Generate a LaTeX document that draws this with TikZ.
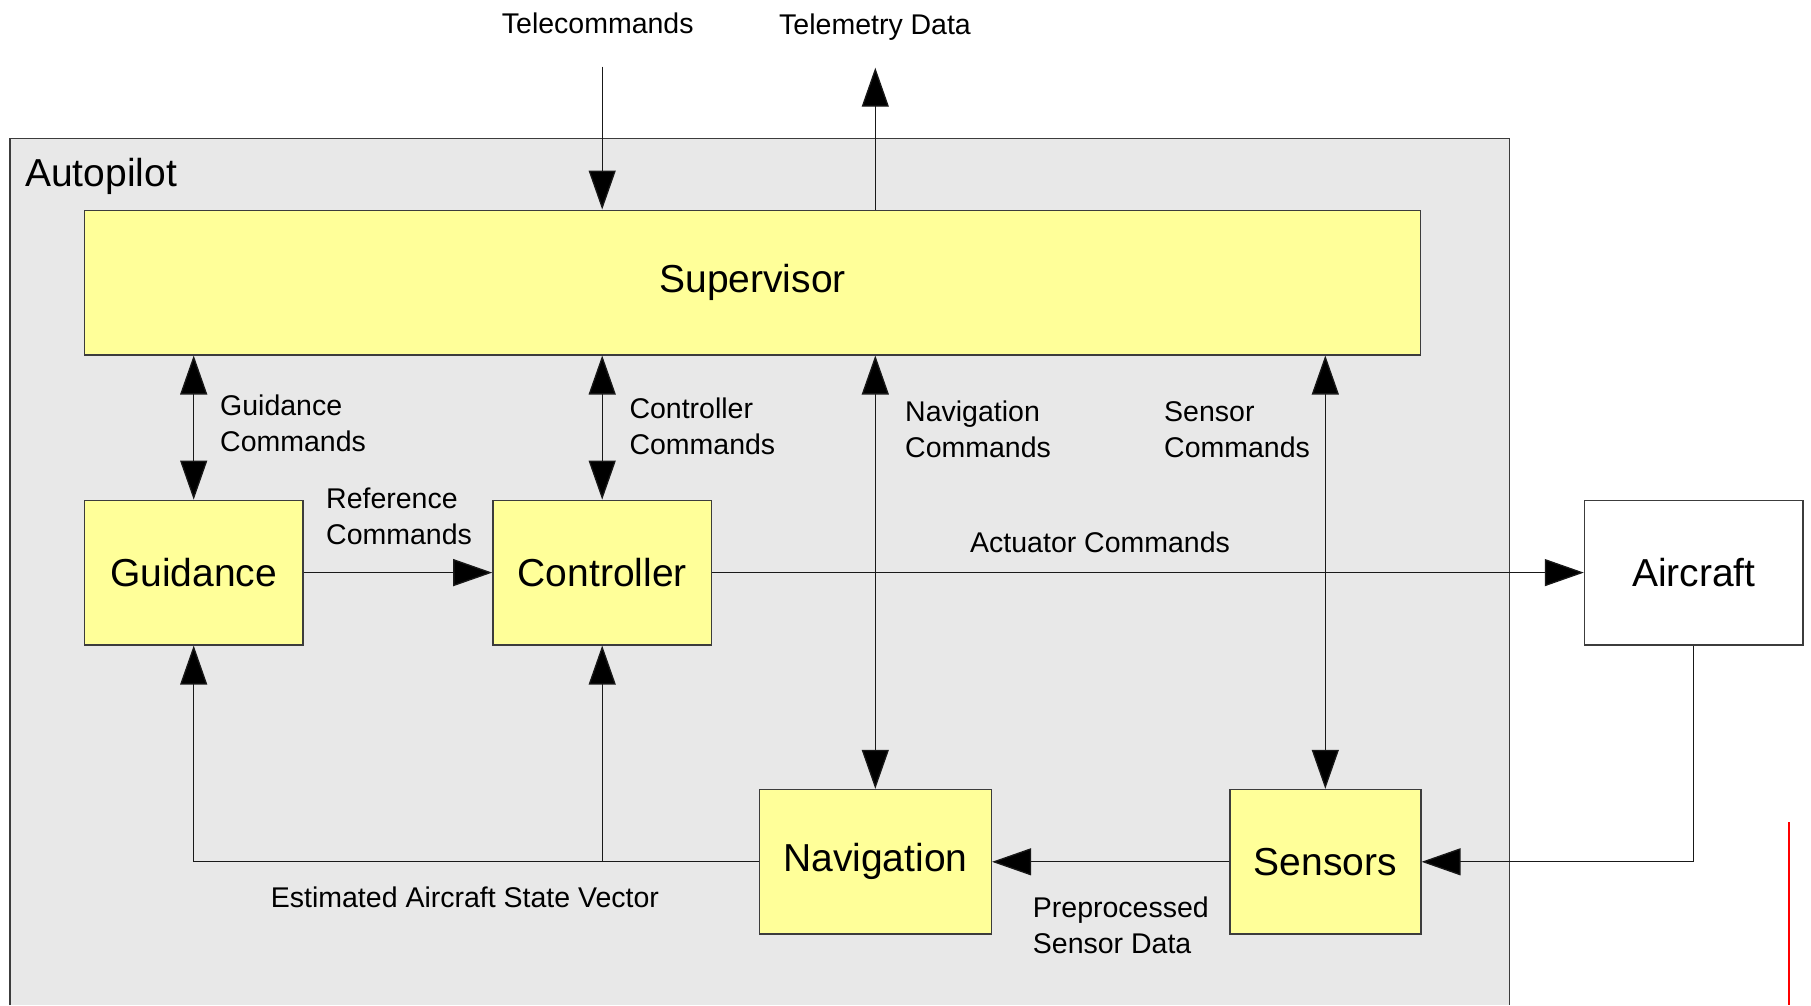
\documentclass[tikz,border=0pt]{standalone}
\usepackage{fontspec}
\setmainfont{Liberation Sans}
\usetikzlibrary{arrows.meta}
\definecolor{boxyellow}{RGB}{255,255,153}
\definecolor{apgray}{RGB}{232,232,232}
\definecolor{edgegray}{RGB}{60,60,60}
\definecolor{markred}{RGB}{255,0,0}

\begin{document}
\begin{tikzpicture}[x=1pt,y=-1pt,
  block/.style={draw=edgegray, line width=1.5pt, fill=boxyellow,
    minimum height=144.5pt, inner sep=0pt,
    font=\fontsize{39}{47}\selectfont},
  plainblock/.style={block, fill=white},
  lbl/.style={font=\fontsize{28.5}{36}\selectfont, inner sep=0pt,
    anchor=base west, align=left},
  flow/.style={draw=black!90, line width=1.3pt,
    -{Triangle[length=39pt,width=27pt,fill=black]}},
  bothway/.style={draw=black!90, line width=1.3pt,
    {Triangle[length=39pt,width=27pt,fill=black]}-{Triangle[length=39pt,width=27pt,fill=black]}}]

\useasboundingbox (0,0) rectangle (1811,1005);

% Autopilot enclosure (open at the bottom edge of the page)
\fill[apgray] (10,138.3) rectangle (1509.5,1005);
\draw[edgegray, line width=1.5pt] (10,1005) -- (10,138.3) -- (1509.5,138.3) -- (1509.5,1005);
\node[anchor=base west, inner sep=0pt, font=\fontsize{39}{47}\selectfont] (aplbl) at (25,186) {Autopilot};

% Blocks
\node[block, minimum width=1336pt] (sup) at (752.5,282.5) {Supervisor};
\node[block, minimum width=218.5pt] (gui) at (193.7,572.6) {Guidance};
\node[block, minimum width=218.5pt] (ctl) at (602.2,572.6) {Controller};
\node[block, minimum width=232pt]   (nav) at (875.3,861.8) {Navigation};
\node[block, minimum width=191pt]   (sen) at (1325.3,861.8) {Sensors};
\node[plainblock, minimum width=218.5pt] (ac) at (1693.8,572.6) {Aircraft};

% External links
\coordinate (tcin) at (602.2,66.7);
\coordinate (tmout) at (875.3,67.7);
\draw[flow] (tcin) -- (tcin |- sup.north);
\draw[flow] (nav.north |- sup.north) -- (tmout);

% Supervisor command links
\draw[bothway] (gui.north |- sup.south) -- (gui.north);
\draw[bothway] (ctl.north |- sup.south) -- (ctl.north);
\draw[bothway] (nav.north |- sup.south) -- (nav.north);
\draw[bothway] (sen.north |- sup.south) -- (sen.north);

% Forward path
\draw[flow] (gui.east) -- (ctl.west);
\draw[flow] (ctl.east) -- (ac.west);

% Feedback path
\draw[flow] (ac.south) |- (sen.east);
\draw[flow] (sen.west) -- (nav.east);
\draw[flow] (nav.west) -| (gui.south);
\draw[flow] (nav.west -| ctl.south) -- (ctl.south);

% Labels (two-line labels are placed by the baseline of their last line)
\node[lbl] (ltc)  at (501.7,33.3) {Telecommands};
\node[lbl] (ltm)  at (779,34.3) {Telemetry Data};
\node[lbl] (lgc)  at (220,451.7) {Guidance\\Commands};
\node[lbl] (lrc)  at (326,544) {Reference\\Commands};
\node[lbl] (lcc)  at (629.3,454) {Controller\\Commands};
\node[lbl] (lnc)  at (905,457.3) {Navigation\\Commands};
\node[lbl] (lsc)  at (1164,457.3) {Sensor\\Commands};
\node[lbl] (lac)  at (970,552.3) {Actuator Commands};
\node[lbl] (lesv) at (270.7,907.7) {Estimated Aircraft State Vector};
\node[lbl] (lpsd) at (1032.7,953.3) {Preprocessed\\Sensor Data};

% Red vertical mark at the right margin
\draw[markred, line width=2pt] (1789,822) -- (1789,1005);
\end{tikzpicture}
\end{document}
